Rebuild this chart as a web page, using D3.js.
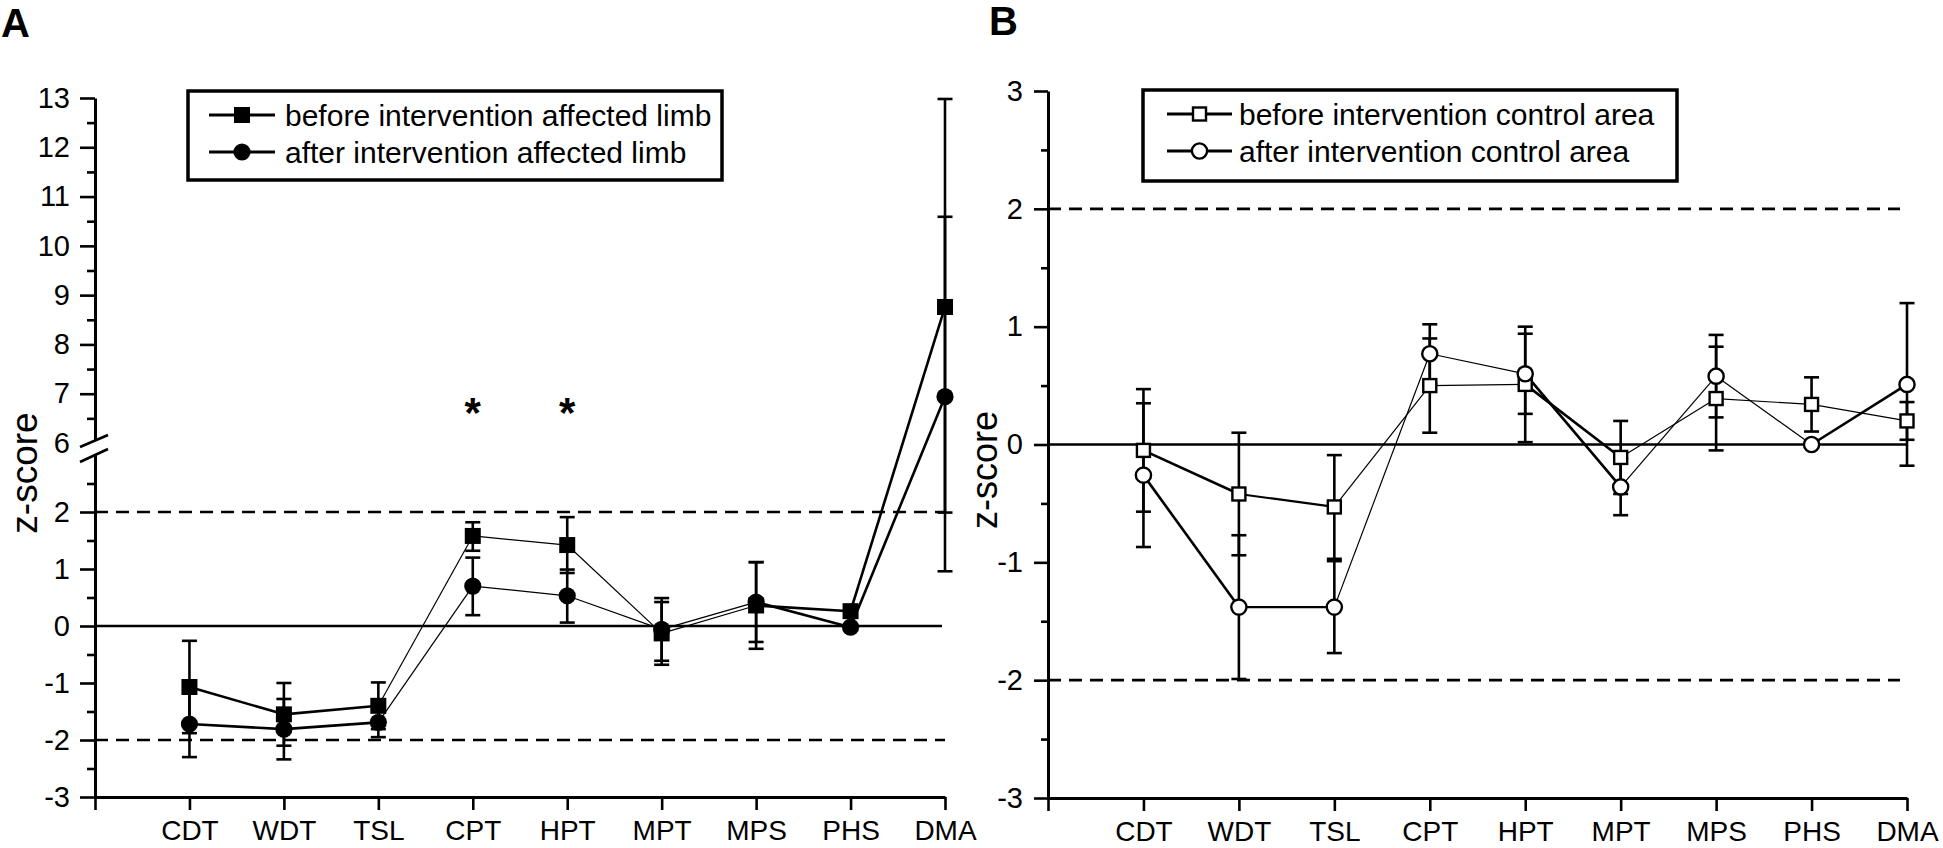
<!DOCTYPE html>
<html>
<head>
<meta charset="utf-8">
<script src="https://cdn.jsdelivr.net/npm/d3@7/dist/d3.min.js"></script>
<style>
  body { margin: 0; background: #fff; }
  svg text { font-family: "Liberation Sans", Arial, sans-serif; fill: #000; }
</style>
</head>
<body>
<div id="chart"></div>
<script>
// categories (x axis)
var categories = ["CDT", "WDT", "TSL", "CPT", "HPT", "MPT", "MPS", "PHS", "DMA"];

// panel A - affected limb (error bar ends)
var beforeA    = [-1.07, -1.55, -1.40, 1.58, 1.42, -0.13, 0.36, 0.26, 8.76];
var beforeA_hi = [-0.26, -1.00, -0.99, 1.82, 1.91, 0.42, 1.12, 0.26, 12.98];
var beforeA_lo = [-1.88, -2.10, -1.81, 1.32, 0.93, -0.68, -0.40, 0.26, 0.96];
var afterA     = [-1.72, -1.81, -1.69, 0.70, 0.53, -0.06, 0.42, -0.02, 6.94];
var afterA_hi  = [-1.14, -1.28, -1.43, 1.20, 0.99, 0.49, 1.12, -0.02, 10.59];
var afterA_lo  = [-2.30, -2.34, -1.95, 0.19, 0.06, -0.61, -0.28, -0.02, 1.99];
var signifA    = ["CPT", "HPT"];

// panel B - control area (mean, sd)
var beforeB    = [-0.05, -0.42, -0.53, 0.50, 0.51, -0.11, 0.39, 0.34, 0.20];
var beforeB_sd = [0.52, 0.52, 0.44, 0.40, 0.49, 0.31, 0.44, 0.23, 0.16];
var afterB     = [-0.26, -1.38, -1.38, 0.77, 0.60, -0.36, 0.58, 0.00, 0.51];
var afterB_sd  = [0.61, 0.61, 0.39, 0.25, 0.34, 0.24, 0.35, 0.00, 0.69];

// y tick labels
var ticksA_low = [-3, -2, -1, 0, 1, 2];
var ticksA_up  = [7, 8, 9, 10, 11, 12, 13];
var ticksB     = [-3, -2, -1, 0, 1, 2, 3];

// line widths of the segments between points (style only)
var segA_before = [2.6, 2.6, 1.2, 1.2, 1.2, 1.2, 2.6, 2.6];
var segA_after  = [2.6, 2.6, 1.2, 1.2, 1.2, 1.2, 2.6, 2.6];
var segB_before = [2.6, 2.2, 1.2, 1.2, 2.6, 1.2, 1.2, 1.2];
var segB_after  = [2.6, 2.4, 1.2, 1.2, 2.6, 1.2, 1.2, 2.6];

var width = 1943, height = 848;

var svg = d3.select("#chart")
  .append("svg")
  .attr("width", width)
  .attr("height", height);

var plain = function(d) { return String(d); };   // hyphen minus like the original

function halfTicks(lo, hi) {
  var t = [];
  for (var v = lo; v < hi; v++) t.push(v + 0.5);
  return t;
}

function styleAxis(g) {
  g.selectAll("path.domain").attr("stroke", "#000").attr("stroke-width", 3);
  g.selectAll(".tick line").attr("stroke", "#000").attr("stroke-width", 2.6);
  g.selectAll(".tick text").style("font-size", "29px").attr("fill", "#000");
}

function xAxis(g, x, y0) {
  var gx = g.append("g").attr("transform", "translate(0," + y0 + ")")
    .call(d3.axisBottom(x).tickValues(d3.range(0, 10)).tickSize(13).tickSizeOuter(0).tickPadding(10)
      .tickFormat(function(i) { return i == 0 ? "" : categories[i - 1]; }));
  styleAxis(gx);
  gx.selectAll(".tick text").style("font-size", "28px");
}

function drawErr(g, x, y, mean, hi, lo) {
  categories.forEach(function(c, i) {
    if (hi[i] - lo[i] < 0.001) return;
    var cx = x(i + 1);
    g.append("line").attr("x1", cx).attr("x2", cx)
      .attr("y1", y(hi[i])).attr("y2", y(lo[i]))
      .attr("stroke", "#000").attr("stroke-width", 2.6);
    [hi[i], lo[i]].forEach(function(v) {
      g.append("line").attr("x1", cx - 7.5).attr("x2", cx + 7.5)
        .attr("y1", y(v)).attr("y2", y(v))
        .attr("stroke", "#000").attr("stroke-width", 2.6);
    });
  });
}

function drawLine(g, x, y, vals, widths) {
  for (var i = 0; i < vals.length - 1; i++) {
    g.append("line")
      .attr("x1", x(i + 1)).attr("y1", y(vals[i]))
      .attr("x2", x(i + 2)).attr("y2", y(vals[i + 1]))
      .attr("stroke", "#000").attr("stroke-width", widths[i]);
  }
}

function marker(g, kind, cx, cy, open) {
  if (kind == "square") {
    var s = open ? 13 : 16;
    g.append("rect").attr("x", cx - s / 2).attr("y", cy - s / 2)
      .attr("width", s).attr("height", s)
      .attr("fill", open ? "#fff" : "#000")
      .attr("stroke", "#000").attr("stroke-width", open ? 2.4 : 0);
  } else {
    g.append("circle").attr("cx", cx).attr("cy", cy).attr("r", open ? 7.6 : 8.6)
      .attr("fill", open ? "#fff" : "#000")
      .attr("stroke", "#000").attr("stroke-width", open ? 2.4 : 0);
  }
}

function drawLegend(g, box, rows, open) {
  g.append("rect").attr("x", box.x).attr("y", box.y)
    .attr("width", box.w).attr("height", box.h)
    .attr("fill", "#fff").attr("stroke", "#000").attr("stroke-width", 3.5);
  rows.forEach(function(r, i) {
    var ry = box.y + 24 + i * 37;
    g.append("line").attr("x1", box.x + box.l1).attr("x2", box.x + box.l2)
      .attr("y1", ry).attr("y2", ry).attr("stroke", "#000").attr("stroke-width", 3);
    marker(g, r.kind, box.x + (box.l1 + box.l2) / 2, ry, open);
    g.append("text").attr("x", box.x + box.tx).attr("y", ry).attr("dy", "0.35em")
      .style("font-size", "30px").text(r.label);
  });
}

// ---------------- panel A ----------------
(function() {
  var g = svg.append("g");
  var x = d3.scaleLinear().domain([0, 9]).range([95, 945]);
  var yLow = d3.scaleLinear().domain([-3, 3]).range([797, 455]);
  var yUp = d3.scaleLinear().domain([6, 13]).range([443, 98]);
  var y = function(v) { return v >= 6 ? yUp(v) : yLow(v); };

  // reference lines
  g.append("line").attr("x1", 95).attr("x2", 942).attr("y1", y(0)).attr("y2", y(0))
    .attr("stroke", "#000").attr("stroke-width", 2.6);
  [2, -2].forEach(function(v) {
    g.append("line").attr("x1", 95).attr("x2", 945).attr("y1", y(v)).attr("y2", y(v))
      .attr("stroke", "#000").attr("stroke-width", 2.6).attr("stroke-dasharray", "13,8");
  });

  // y axis, lower and upper part
  var gl = g.append("g").attr("transform", "translate(95,0)")
    .call(d3.axisLeft(yLow).tickValues(ticksA_low).tickFormat(plain).tickSize(15).tickSizeOuter(0).tickPadding(10));
  gl.append("g").call(d3.axisLeft(yLow).tickValues(halfTicks(-3, 3)).tickSize(8).tickFormat(""))
    .select(".domain").remove();
  styleAxis(gl);
  var gu = g.append("g").attr("transform", "translate(95,0)")
    .call(d3.axisLeft(yUp).tickValues(ticksA_up).tickFormat(plain).tickSize(15).tickSizeOuter(0).tickPadding(10));
  gu.append("g").call(d3.axisLeft(yUp).tickValues(halfTicks(6, 13)).tickSize(8).tickFormat(""))
    .select(".domain").remove();
  styleAxis(gu);
  g.append("text").attr("x", 70).attr("y", yUp(6)).attr("dy", "0.35em")
    .attr("text-anchor", "end").style("font-size", "29px").text("6");

  // axis break
  g.append("polygon").attr("points", "80,447 108,435 108,449 80,462").attr("fill", "#fff");
  [[447, 435], [462, 449]].forEach(function(p) {
    g.append("line").attr("x1", 80).attr("y1", p[0]).attr("x2", 108).attr("y2", p[1])
      .attr("stroke", "#000").attr("stroke-width", 2.6);
  });

  xAxis(g, x, 797);

  drawErr(g, x, y, beforeA, beforeA_hi, beforeA_lo);
  drawErr(g, x, y, afterA, afterA_hi, afterA_lo);
  drawLine(g, x, y, beforeA, segA_before);
  drawLine(g, x, y, afterA, segA_after);
  beforeA.forEach(function(v, i) { marker(g, "square", x(i + 1), y(v), false); });
  afterA.forEach(function(v, i) { marker(g, "circle", x(i + 1), y(v), false); });

  signifA.forEach(function(c) {
    g.append("text").attr("x", x(categories.indexOf(c) + 1)).attr("y", 427)
      .attr("text-anchor", "middle").style("font-size", "42px").style("font-weight", "bold").text("*");
  });

  g.append("text").attr("transform", "translate(37,473) rotate(-90)")
    .attr("text-anchor", "middle").style("font-size", "37px").text("z-score");
  g.append("text").attr("x", 1).attr("y", 37).style("font-size", "40px").style("font-weight", "bold").text("A");

  drawLegend(g, { x: 188, y: 91, w: 534, h: 89, l1: 21, l2: 87, tx: 97 }, [
    { kind: "square", label: "before intervention affected limb" },
    { kind: "circle", label: "after intervention affected limb" }
  ], false);
})();

// ---------------- panel B ----------------
(function() {
  var g = svg.append("g");
  var x = d3.scaleLinear().domain([0, 9]).range([1048, 1907]);
  var y = d3.scaleLinear().domain([-3, 3]).range([798, 91]);

  g.append("line").attr("x1", 1048).attr("x2", 1907).attr("y1", y(0)).attr("y2", y(0))
    .attr("stroke", "#000").attr("stroke-width", 2.6);
  [2, -2].forEach(function(v) {
    g.append("line").attr("x1", 1048).attr("x2", 1900).attr("y1", y(v)).attr("y2", y(v))
      .attr("stroke", "#000").attr("stroke-width", 2.6).attr("stroke-dasharray", "13,8");
  });

  var gy = g.append("g").attr("transform", "translate(1048,0)")
    .call(d3.axisLeft(y).tickValues(ticksB).tickFormat(plain).tickSize(14).tickSizeOuter(0).tickPadding(11));
  gy.append("g").call(d3.axisLeft(y).tickValues(halfTicks(-3, 3)).tickSize(7).tickFormat(""))
    .select(".domain").remove();
  styleAxis(gy);

  xAxis(g, x, 798);

  var bHi = beforeB.map(function(v, i) { return v + beforeB_sd[i]; });
  var bLo = beforeB.map(function(v, i) { return v - beforeB_sd[i]; });
  var aHi = afterB.map(function(v, i) { return v + afterB_sd[i]; });
  var aLo = afterB.map(function(v, i) { return v - afterB_sd[i]; });
  drawErr(g, x, y, beforeB, bHi, bLo);
  drawErr(g, x, y, afterB, aHi, aLo);
  drawLine(g, x, y, beforeB, segB_before);
  drawLine(g, x, y, afterB, segB_after);
  beforeB.forEach(function(v, i) { marker(g, "square", x(i + 1), y(v), true); });
  afterB.forEach(function(v, i) { marker(g, "circle", x(i + 1), y(v), true); });

  g.append("text").attr("transform", "translate(997,470) rotate(-90)")
    .attr("text-anchor", "middle").style("font-size", "36px").text("z-score");
  g.append("text").attr("x", 989).attr("y", 35).style("font-size", "40px").style("font-weight", "bold").text("B");

  drawLegend(g, { x: 1143, y: 90, w: 534, h: 91, l1: 24, l2: 89, tx: 96 }, [
    { kind: "square", label: "before intervention control area" },
    { kind: "circle", label: "after intervention control area" }
  ], true);
})();
</script>
</body>
</html>
